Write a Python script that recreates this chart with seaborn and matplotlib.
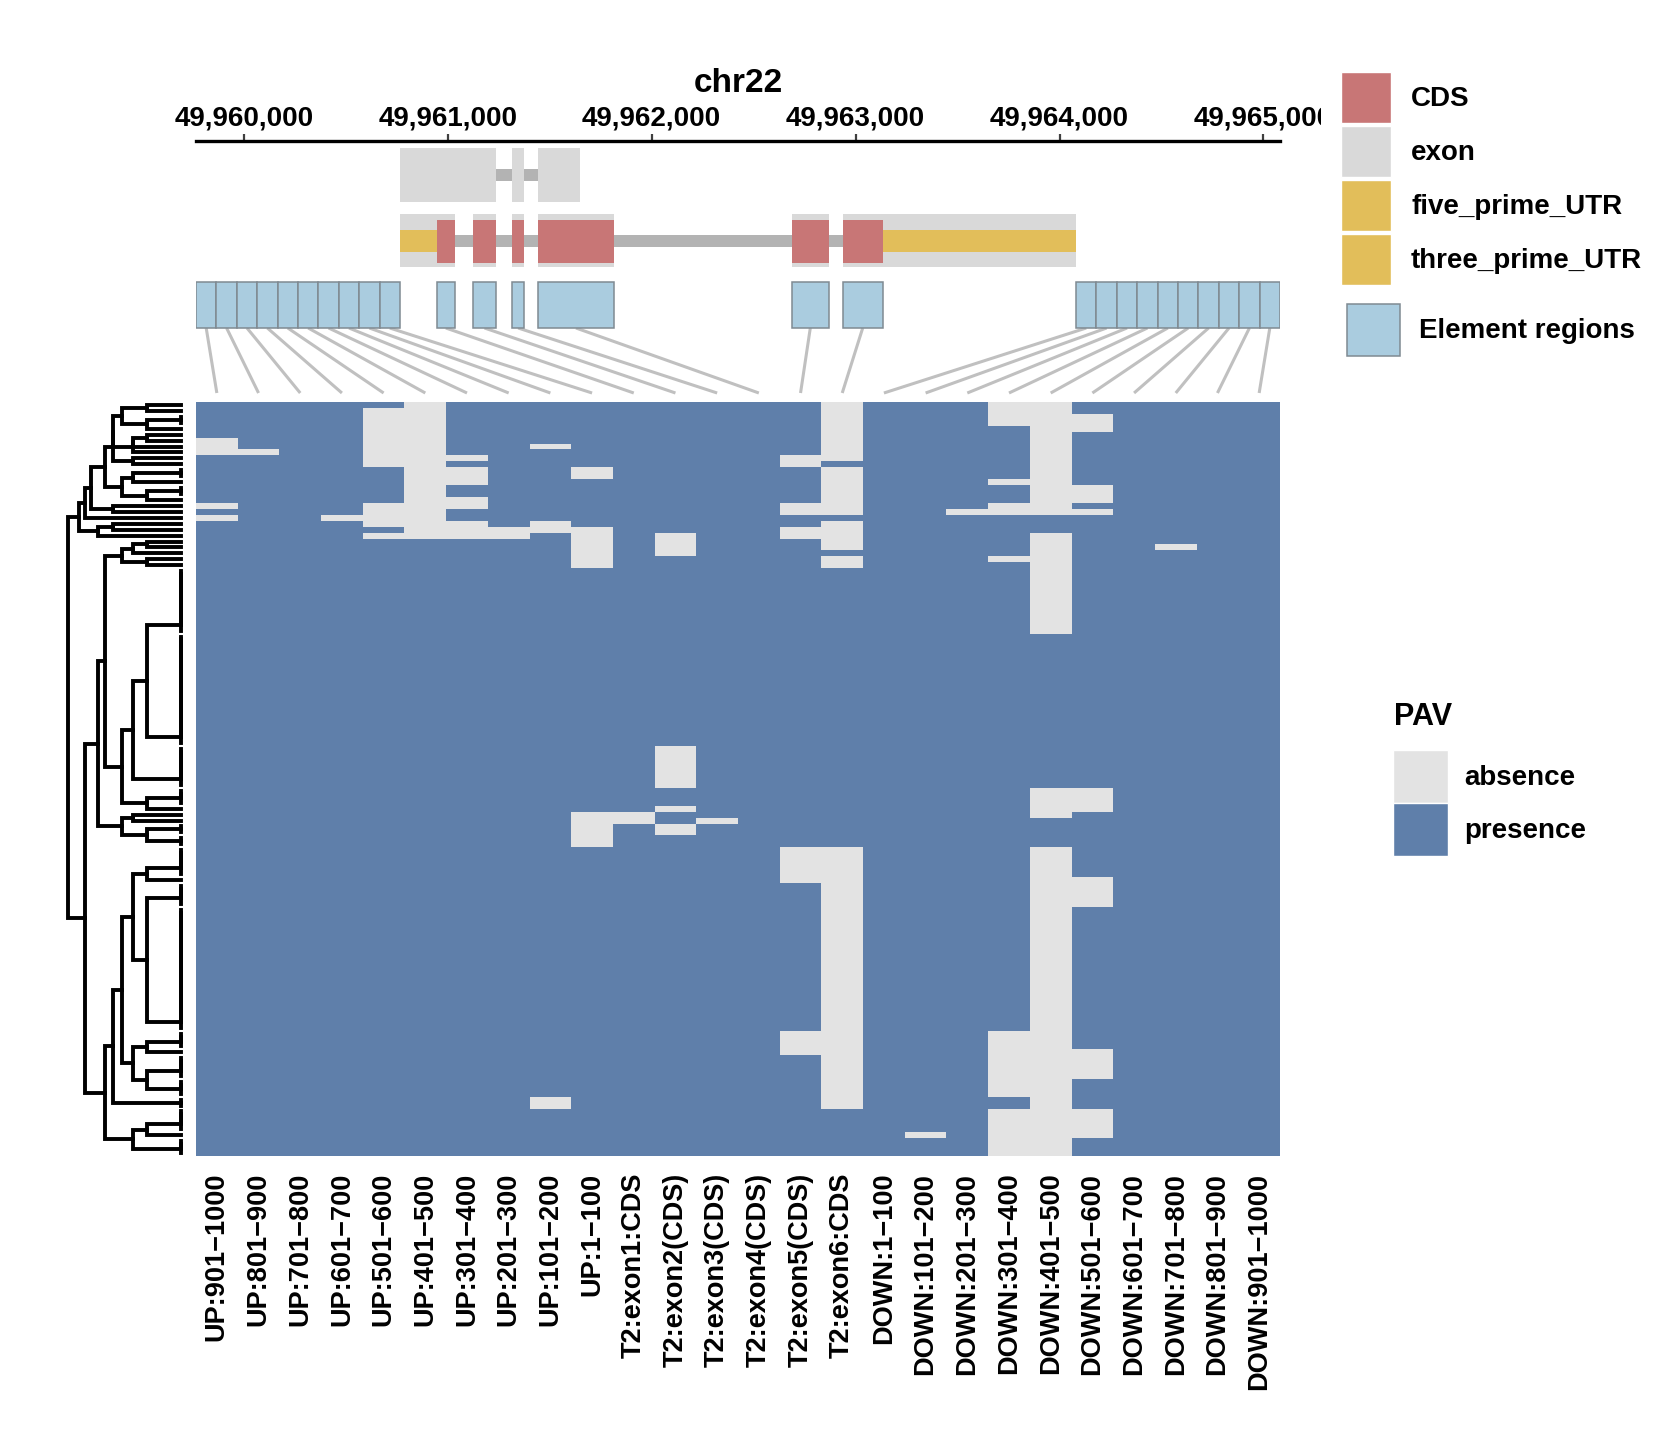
import numpy as np
import pandas as pd
import matplotlib
matplotlib.use("Agg")
import matplotlib.pyplot as plt
from matplotlib.colors import ListedColormap
from matplotlib.patches import Patch, Rectangle
from matplotlib.ticker import FuncFormatter
from matplotlib.transforms import Bbox, TransformedBbox
import seaborn as sns

sns.set_style("white")
plt.rcParams["font.family"] = ["Liberation Sans", "DejaVu Sans"]
plt.rcParams["font.weight"] = "bold"
plt.rcParams["text.color"] = "black"
plt.rcParams["xtick.color"] = "black"
plt.rcParams["ytick.color"] = "black"

# --- data ---
chrom = "chr22"
n_samples = 127
col_labels = [
    "UP:901\u22121000", "UP:801\u2212900", "UP:701\u2212800", "UP:601\u2212700",
    "UP:501\u2212600", "UP:401\u2212500", "UP:301\u2212400", "UP:201\u2212300",
    "UP:101\u2212200", "UP:1\u2212100",
    "T2:exon1:CDS", "T2:exon2(CDS)", "T2:exon3(CDS)", "T2:exon4(CDS)",
    "T2:exon5(CDS)", "T2:exon6:CDS",
    "DOWN:1\u2212100", "DOWN:101\u2212200", "DOWN:201\u2212300", "DOWN:301\u2212400",
    "DOWN:401\u2212500", "DOWN:501\u2212600", "DOWN:601\u2212700", "DOWN:701\u2212800",
    "DOWN:801\u2212900", "DOWN:901\u22121000",
]

gene_start = 49960766
gene_end = 49964081
axis_ticks = [49960000, 49961000, 49962000, 49963000, 49964000, 49965000]

t1_exons = [(49960766, 49961236), (49961317, 49961374), (49961442, 49961648)]
t2_exons = [(49960766, 49961035), (49961125, 49961236), (49961317, 49961374),
            (49961442, 49961816), (49962688, 49962868), (49962937, 49964081)]
t2_cds = [(49960947, 49961035), (49961125, 49961236), (49961317, 49961374),
          (49961442, 49961816), (49962688, 49962868), (49962937, 49963133)]
t2_utr5 = [(49960766, 49960947)]
t2_utr3 = [(49963133, 49964081)]

# absence runs: (column index, first row, stop row), rows in plotted order
absent_runs = [
    (0, 6, 9), (0, 17, 18), (0, 19, 20),
    (1, 8, 9),
    (3, 19, 20),
    (4, 1, 11), (4, 17, 21), (4, 22, 23),
    (5, 0, 23),
    (6, 9, 10), (6, 11, 14), (6, 16, 18), (6, 20, 23),
    (7, 21, 23),
    (8, 7, 8), (8, 20, 22), (8, 117, 119),
    (9, 11, 13), (9, 21, 28), (9, 69, 75),
    (10, 69, 71),
    (11, 22, 26), (11, 58, 65), (11, 68, 69), (11, 71, 73),
    (12, 70, 71),
    (14, 9, 11), (14, 17, 19), (14, 21, 23), (14, 75, 81), (14, 106, 110),
    (15, 0, 10), (15, 11, 19), (15, 20, 25), (15, 26, 28), (15, 75, 119),
    (17, 123, 124),
    (18, 18, 19),
    (19, 0, 4), (19, 13, 14), (19, 17, 19), (19, 26, 27), (19, 106, 117), (19, 119, 127),
    (20, 0, 19), (20, 22, 39), (20, 65, 70), (20, 75, 127),
    (21, 2, 5), (21, 14, 17), (21, 18, 19), (21, 65, 69), (21, 80, 85),
    (21, 109, 114), (21, 119, 124),
    (23, 24, 25),
]

# colours
c_presence = "#5F7FAA"
c_absence = "#E3E3E3"
c_cds = "#C87676"
c_exon = "#D9D9D9"
c_utr = "#E2BE5A"
c_intron = "#B3B3B3"
c_element = "#AACCDF"

# --- build matrix ---
pav = np.ones((n_samples, len(col_labels)), dtype=int)
for c, r0, r1 in absent_runs:
    pav[r0:r1, c] = 0
pav_df = pd.DataFrame(pav, columns=col_labels)

# element regions from labels
elements = []
k_exon = 0
for lab in col_labels:
    if lab.startswith("UP:"):
        a, b = lab[3:].split("\u2212")
        elements.append((gene_start - int(b), gene_start - int(a) + 1))
    elif lab.startswith("DOWN:"):
        a, b = lab[5:].split("\u2212")
        elements.append((gene_end + int(a) - 1, gene_end + int(b)))
    else:
        elements.append(t2_cds[k_exon])
        k_exon += 1

x_lo = gene_start - 1000
x_hi = gene_end + 1000

# --- figure ---
W, H = 1673, 1451
fig = plt.figure(figsize=(W / 100, H / 100), dpi=100)


def px_axes(x0, y0, x1, y1):
    return fig.add_axes([x0 / W, 1 - y1 / H, (x1 - x0) / W, (y1 - y0) / H])


hm_x0, hm_x1, hm_y0, hm_y1 = 196, 1280, 402, 1156

# heatmap
ax_hm = px_axes(hm_x0, hm_y0, hm_x1, hm_y1)
sns.heatmap(pav_df, ax=ax_hm, cmap=ListedColormap([c_absence, c_presence]),
            vmin=0, vmax=1, cbar=False, xticklabels=True, yticklabels=False)
ax_hm.set_xticklabels(col_labels, rotation=90, fontsize=19.5, fontweight="bold",
                      va="top", ha="center", color="black")
ax_hm.tick_params(axis="x", length=0, pad=12)
ax_hm.set_xlabel("")
ax_hm.set_ylabel("")

# dendrogram (adjacent-merge complete linkage on the plotted order)
D = np.sqrt(((pav[:, None, :] - pav[None, :, :]) ** 2).sum(-1))
clusters = [[i] for i in range(n_samples)]
pos = [i + 0.5 for i in range(n_samples)]
hgt = [0.0] * n_samples
segs = []
while len(clusters) > 1:
    link = [D[np.ix_(clusters[k], clusters[k + 1])].max() for k in range(len(clusters) - 1)]
    k = int(np.argmin(link))
    h = link[k]
    segs.append(([hgt[k], h, h, hgt[k + 1]], [pos[k], pos[k], pos[k + 1], pos[k + 1]]))
    clusters[k:k + 2] = [clusters[k] + clusters[k + 1]]
    pos[k:k + 2] = [(pos[k] + pos[k + 1]) / 2]
    hgt[k:k + 2] = [h]

ax_d = px_axes(68, hm_y0, 181, hm_y1)
for xs, ys in segs:
    ax_d.plot(xs, ys, color="black", lw=2.8, solid_capstyle="projecting",
              solid_joinstyle="miter", clip_on=False)
ax_d.set_xlim(hgt[0], 0)
ax_d.set_ylim(n_samples, 0)
ax_d.axis("off")

# gene structure
ax_g = px_axes(hm_x0, 145, hm_x1, 400)
ax_g.set_xlim(x_lo, x_hi)
ax_g.set_ylim(400, 145)
ax_g.axis("off")

# T1 (exon only)
ax_g.add_patch(Rectangle((t1_exons[0][0], 169), t1_exons[-1][1] - t1_exons[0][0], 12,
                         color=c_intron, lw=0, zorder=1))
for s, e in t1_exons:
    ax_g.add_patch(Rectangle((s, 148), e - s, 54, color=c_exon, lw=0, zorder=2))

# T2
ax_g.add_patch(Rectangle((t2_exons[0][0], 235), t2_exons[-1][1] - t2_exons[0][0], 12,
                         color=c_intron, lw=0, zorder=1))
for s, e in t2_exons:
    ax_g.add_patch(Rectangle((s, 214), e - s, 53, color=c_exon, lw=0, zorder=2))
for s, e in t2_cds:
    ax_g.add_patch(Rectangle((s, 220), e - s, 43, color=c_cds, lw=0, zorder=3))
for s, e in t2_utr5 + t2_utr3:
    ax_g.add_patch(Rectangle((s, 230), e - s, 22, color=c_utr, lw=0, zorder=3))

# element regions + connectors
ncol = len(col_labels)
for i, (s, e) in enumerate(elements):
    ax_g.add_patch(Rectangle((s, 282), e - s, 46, facecolor=c_element,
                             edgecolor="#7F8A92", lw=1.1, zorder=3))
    col_x = x_lo + (i + 0.5) / ncol * (x_hi - x_lo)
    ax_g.plot([(s + e) / 2, col_x], [328, 393], color="#C0C0C0", lw=2.2,
              solid_capstyle="butt", zorder=1, clip_on=False)

# ruler
ax_r = px_axes(hm_x0, 141, hm_x1, 141.01)
ax_r.set_xlim(x_lo, x_hi)
ax_r.set_yticks([])
for sp in ["bottom", "left", "right"]:
    ax_r.spines[sp].set_visible(False)
ax_r.spines["top"].set_linewidth(2.4)
ax_r.spines["top"].set_color("black")
ax_r.xaxis.tick_top()
ax_r.set_xticks(axis_ticks)
ax_r.xaxis.set_major_formatter(FuncFormatter(lambda v, p: f"{int(v):,}"))
ax_r.tick_params(axis="x", direction="out", length=5, width=1.6, color="#404040",
                 labelcolor="black", pad=1.5, labelsize=20)
clip = TransformedBbox(Bbox([[0, 0], [1321 / W, 1]]), fig.transFigure)
for t in ax_r.xaxis.get_major_ticks():
    t.label2.set_clip_box(clip)
    t.label2.set_clip_on(True)
fig.text((hm_x0 + hm_x1) / 2 / W, 1 - 84 / H, chrom, ha="center", va="center",
         fontsize=24, fontweight="bold")

# legends
fs = 20
em = fs * 100 / 72


def hh(px):
    # legend handle height in font units giving a patch of `px` pixels
    return (px / em - 0.245) / 0.65


fig.legend(
    handles=[Patch(facecolor=c_cds), Patch(facecolor=c_exon),
             Patch(facecolor=c_utr), Patch(facecolor=c_utr)],
    labels=["CDS", "exon", "five_prime_UTR", "three_prime_UTR"],
    loc="upper left", bbox_to_anchor=(1341 / W, 1 - 72 / H), frameon=False,
    borderpad=0, borderaxespad=0, fontsize=fs, handlelength=50 / em,
    handleheight=hh(51), labelspacing=3 / em, handletextpad=0.72)
fig.legend(
    handles=[Patch(facecolor=c_element, edgecolor="#7F8A92", lw=1.1)],
    labels=["Element regions"],
    loc="upper left", bbox_to_anchor=(1347 / W, 1 - 304 / H), frameon=False,
    borderpad=0, borderaxespad=0, fontsize=fs, handlelength=53 / em,
    handleheight=hh(52), handletextpad=0.68)
fig.text(1394 / W, 1 - 717 / H, "PAV", ha="left", va="center",
         fontsize=22, fontweight="bold")
fig.legend(
    handles=[Patch(facecolor=c_absence), Patch(facecolor=c_presence)],
    labels=["absence", "presence"],
    loc="upper left", bbox_to_anchor=(1393 / W, 1 - 750 / H), frameon=False,
    borderpad=0, borderaxespad=0, fontsize=fs, handlelength=55 / em,
    handleheight=hh(53), labelspacing=0.0, handletextpad=0.6)

fig.savefig("out.png", dpi=100)
